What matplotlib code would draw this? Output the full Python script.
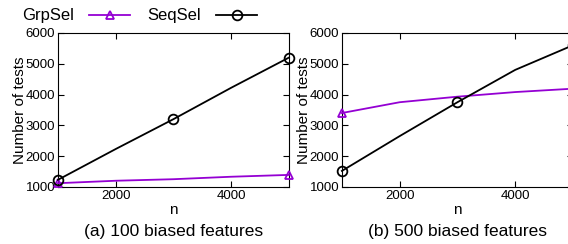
import matplotlib.pyplot as plt
from matplotlib.lines import Line2D

plt.rcParams['font.family'] = ['Liberation Sans', 'DejaVu Sans']

n = [1000, 2000, 3000, 4000, 5000]
grp_100 = [1120, 1200, 1250, 1330, 1390]
seq_100 = [1230, 2230, 3200, 4220, 5200]
grp_500 = [3400, 3750, 3930, 4080, 4190]
seq_500 = [1520, 2650, 3750, 4800, 5600]
captions = ["(a) 100 biased features", "(b) 500 biased features"]

purple = '#9400d3'

fig = plt.figure(figsize=(5.68, 2.44), dpi=100)
ax1 = fig.add_axes([0.102, 0.234, 0.4067, 0.631])
ax2 = fig.add_axes([0.602, 0.234, 0.4067, 0.631])

for ax, grp, seq, cap in [(ax1, grp_100, seq_100, captions[0]),
                          (ax2, grp_500, seq_500, captions[1])]:
    ax.plot(n, grp, color=purple, lw=1.3, marker='^', ms=6, mfc='none',
            mew=1.3, markevery=[0, 4], clip_on=False, zorder=3)
    ax.plot(n, seq, color='black', lw=1.3, marker='o', ms=7, mfc='none',
            mew=1.3, markevery=[0, 2, 4], clip_on=False, zorder=3)
    ax.set_xlim(1000, 5000)
    ax.set_ylim(1000, 6000)
    ax.set_xticks([2000, 4000])
    ax.set_yticks([1000, 2000, 3000, 4000, 5000, 6000])
    ax.tick_params(direction='in', top=True, right=True, length=4,
                   labelsize=9.5, pad=2)
    ax.set_xlabel('n', fontsize=11, labelpad=1)
    ax.set_ylabel('Number of tests', fontsize=11, labelpad=-1)
    ax.text(0.5, -0.287, cap, transform=ax.transAxes, ha='center',
            va='center', fontsize=12.5)

handles = [Line2D([], [], color=purple, lw=1.3, marker='^', ms=6,
                  mfc='none', mew=1.3),
           Line2D([], [], color='black', lw=1.3, marker='o', ms=7,
                  mfc='none', mew=1.3)]
fig.legend(handles, ['GrpSel', 'SeqSel'], ncol=2, markerfirst=False,
           frameon=False, fontsize=12, loc='center left',
           bbox_to_anchor=(0.018, 0.935), handlelength=2.5,
           columnspacing=1.0, handletextpad=0.9, borderpad=0.2)

fig.savefig('out.png', dpi=100)
